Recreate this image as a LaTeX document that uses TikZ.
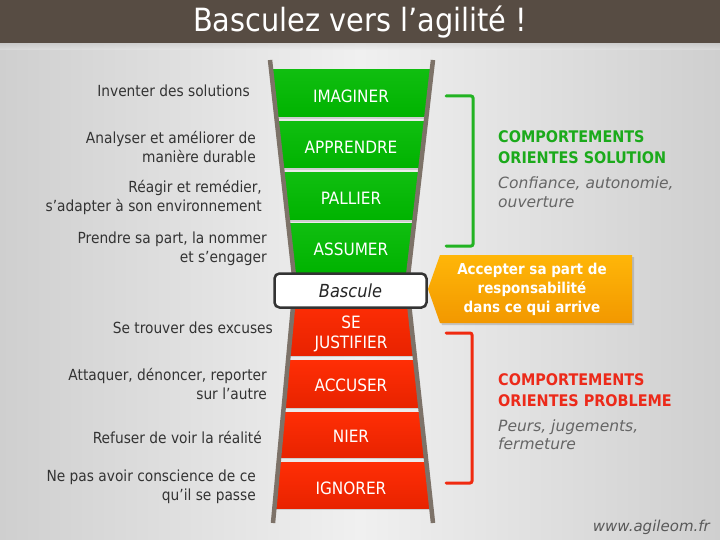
\documentclass[tikz,border=0pt]{standalone}
\usepackage{fontspec}
\setmainfont{DejaVu Sans Condensed}
\newfontfamily\wideface{DejaVu Sans}
\usetikzlibrary{shadows}
\definecolor{titlebar}{HTML}{574C43}
\definecolor{bgside}{HTML}{CFCFCF}
\definecolor{bgmid}{HTML}{F0F0F0}
\definecolor{railc}{HTML}{7D7268}
\definecolor{rgreen}{HTML}{00B300}
\definecolor{rgreenl}{HTML}{10BE10}
\definecolor{rredt}{HTML}{FF2E05}
\definecolor{rredb}{HTML}{E82300}
\definecolor{txt}{HTML}{333333}
\definecolor{subtxt}{HTML}{666666}
\definecolor{hgreen}{HTML}{1BAA1B}
\definecolor{hred}{HTML}{EC2A1A}
\definecolor{orangeA}{HTML}{FFB608}
\definecolor{orangeB}{HTML}{F29800}
\definecolor{brgreen}{HTML}{22B322}
\definecolor{brred}{HTML}{F02A10}
\tikzset{
  titletext/.style={text=white, font=\fontsize{32}{36}\selectfont},
  lefttext/.style={anchor=east, align=right, text=txt, inner sep=0pt, font=\fontsize{15.3}{19}\selectfont},
  runglabel/.style={text=white, align=center, inner sep=0pt, font=\fontsize{17}{20}\selectfont},
  greenrung/.style={top color=rgreenl, bottom color=rgreen},
  redrung/.style={top color=rredt, bottom color=rredb},
  rail/.style={draw=railc, line width=4.5pt, line cap=butt, line join=miter},
  bascbox/.style={draw=black!80, line width=2.5pt, fill=white, rounded corners=5pt, minimum width=152pt, minimum height=34pt, font=\itshape\fontsize{18}{20}\selectfont, text=black!85},
  heading/.style={anchor=west, align=left, inner sep=0pt, font=\bfseries\fontsize{16}{21}\selectfont},
  subtext/.style={anchor=west, align=left, inner sep=0pt, text=subtxt, font=\wideface\itshape\fontsize{15.5}{18.5}\selectfont},
  bracket/.style={line width=3pt, rounded corners=2pt, line cap=round},
}
\begin{document}
\begin{tikzpicture}[x=1pt,y=-1pt]
\useasboundingbox (0,0) rectangle (720,540);
% background
\shade[left color=bgside, right color=bgside, middle color=bgmid] (0,0) rectangle (720,540);
\shade[top color=black!25, bottom color=bgmid, opacity=0.4] (0,43) rectangle (720,50);
\fill[titlebar] (0,0) rectangle (720,43);
\node[titletext] (title) at (360,22) {Basculez vers l’agilité !};

% ladder rungs
\begin{scope}
\clip (270,60) -- (433,60) -- (407,285) -- (433,523) -- (273,523) -- (295,285) -- cycle;
\foreach \a/\b in {70/117,122/168,173/220,224/272}{
  \fill[black!30, opacity=0.5] (250,\b) rectangle (450,\b+2);
  \shade[greenrung] (250,\a) rectangle (450,\b);
}
\foreach \a/\b in {300/355,360/407,412/457,462/508}{
  \fill[black!30, opacity=0.5] (250,\b) rectangle (450,\b+2);
  \shade[redrung] (250,\a) rectangle (450,\b);
}
\end{scope}
% rails
\draw[rail] (270,60) -- (295,285) -- (273,523);
\draw[rail] (433,60) -- (407,285) -- (433,523);

% rung labels
\node[runglabel] (imaginer) at (351,96) {IMAGINER};
\node[runglabel] (apprendre) at (351,147) {APPRENDRE};
\node[runglabel] (pallier) at (351,198) {PALLIER};
\node[runglabel] (assumer) at (351,249) {ASSUMER};
\node[runglabel] (justifier) at (351,334) {SE\\JUSTIFIER};
\node[runglabel] (accuser) at (351,385) {ACCUSER};
\node[runglabel] (nier) at (351,436) {NIER};
\node[runglabel] (ignorer) at (351,488) {IGNORER};

% bascule
\node[bascbox] (bascule) at (350.5,290.5) {Bascule};

% left texts
\node[lefttext] (t1) at (250,91) {Inventer des solutions};
\node[lefttext] (t2) at (256,147) {Analyser et améliorer de\\manière durable};
\node[lefttext] (t3) at (262,197.5) {Réagir et remédier,\\s’adapter à son environnement};
\node[lefttext] (t4) at (267,249) {Prendre sa part, la nommer\\et s’engager};
\node[lefttext] (t5) at (273,328) {Se trouver des excuses};
\node[lefttext] (t6) at (267,383.5) {Attaquer, dénoncer, reporter\\sur l’autre};
\node[lefttext] (t7) at (262,437) {Refuser de voir la réalité};
\node[lefttext] (t8) at (256,487) {Ne pas avoir conscience de ce\\qu’il se passe};

% brackets
\draw[bracket, brgreen] (446,96) -- (473,96) -- (473,246) -- (446,246);
\draw[bracket, brred] (446,333) -- (472,333) -- (472,483) -- (446,483);

% orange arrow box
\shade[top color=orangeA, bottom color=orangeB, drop shadow={shadow xshift=2pt, shadow yshift=-2pt, opacity=0.35}]
  (440,255) -- (632,255) -- (632,323) -- (440,323) -- (428,289) -- cycle;
\node[text=white, align=center, font=\bfseries\fontsize{15}{19}\selectfont] (accept) at (532,289) {Accepter sa part de\\responsabilité\\dans ce qui arrive};

% right texts
\node[heading, text=hgreen] (hsol) at (498,147.5) {COMPORTEMENTS\\ORIENTES SOLUTION};
\node[subtext] (ssol) at (498,192) {Confiance, autonomie,\\ouverture};
\node[heading, text=hred] (hprob) at (498,390.5) {COMPORTEMENTS\\ORIENTES PROBLEME};
\node[subtext] (sprob) at (498,434.5) {Peurs, jugements,\\fermeture};

% footer
\node[anchor=east, inner sep=0pt, text=black!65, font=\wideface\itshape\fontsize{15}{18}\selectfont] (url) at (710,527) {www.agileom.fr};
\end{tikzpicture}
\end{document}
